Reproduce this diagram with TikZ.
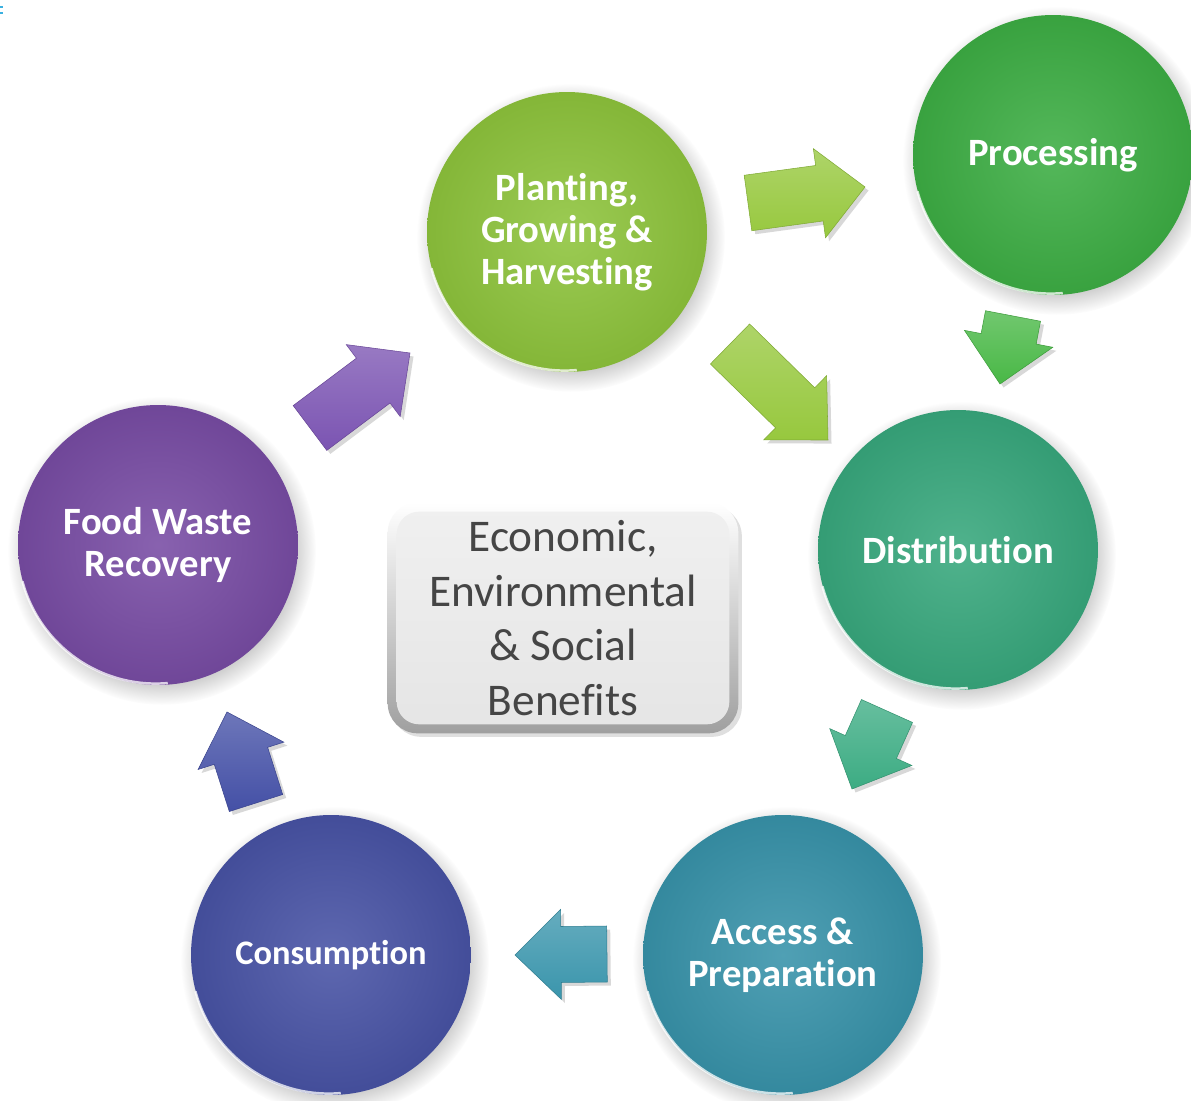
\documentclass[tikz,border=0pt]{standalone}
\usepackage{fontspec}
\setmainfont{Carlito}[Ligatures={NoCommon}]
\usetikzlibrary{calc,shadows,backgrounds}

% stage colours
\definecolor{plantC}{HTML}{8EC43C}
\definecolor{procC}{HTML}{3DAE44}
\definecolor{distC}{HTML}{38A87D}
\definecolor{accC}{HTML}{3893AA}
\definecolor{consC}{HTML}{4853A5}
\definecolor{wasteC}{HTML}{784CA4}
% arrow colours
\definecolor{arPurple}{HTML}{7B54B2}
\definecolor{arLime}{HTML}{97C83E}
\definecolor{arGreen}{HTML}{49B846}
\definecolor{arSea}{HTML}{3CAC83}
\definecolor{arTeal}{HTML}{3A95AC}
\definecolor{arBlue}{HTML}{4450A6}
\definecolor{boxText}{HTML}{454545}
\definecolor{tick}{HTML}{3BB0E0}

% block arrow from a tail coordinate to a tip coordinate
\newcommand\blockarrow[3]{%
  \coordinate (#1-#2-b) at ($(#2)!0.92cm!(#1)$);
  \path[#3]
    ($(#1)!0.56cm!90:(#2)$) -- ($(#1-#2-b)!0.56cm!90:(#2)$) --
    ($(#1-#2-b)!0.9cm!90:(#2)$) -- (#2) --
    ($(#1-#2-b)!0.9cm!-90:(#2)$) -- ($(#1-#2-b)!0.56cm!-90:(#2)$) --
    ($(#1)!0.56cm!-90:(#2)$) -- cycle;}

\tikzset{
  stage/.style={circle, minimum size=5.6cm, inner sep=0pt, align=center,
    text=white, font=\bfseries\fontsize{22}{24}\selectfont,
    shade, inner color=#1!88!white, outer color=#1!93!black,
    circular drop shadow={shadow xshift=2pt, shadow yshift=-3pt, opacity=.4}},
  rim/.style={draw=white, line width=1.4pt, opacity=.75},
  blockshape/.style={shade, top color=#1!78!white, bottom color=#1,
    draw=#1!85!black, line width=0.3pt, line join=miter,
    drop shadow={shadow xshift=2pt, shadow yshift=-2pt, opacity=.3}},
  benefits/.style={rectangle, rounded corners=0.6cm, minimum width=7cm,
    minimum height=4.6cm, align=center, text=boxText,
    font=\fontsize{25.8}{31}\selectfont}
}

\begin{document}
\begin{tikzpicture}[x=0.02cm, y=-0.02cm]
\useasboundingbox (0,0) rectangle (1191,1101);
\begin{scope}[on background layer]
  \fill[white] (0,0) rectangle (1191,1101);
\end{scope}
\fill[tick] (0,6) rectangle (3,8);
\fill[tick] (0,12) rectangle (3,14);

% stages of the cycle
\node[stage=plantC] (plant) at (567,232) {Planting,\\Growing \&\\Harvesting};
\node[stage=procC]  (proc)  at (1053,155) {Processing};
\node[stage=distC]  (dist)  at (958,550) {Distribution};
\node[stage=accC]   (acc)   at (783,955) {Access \&\\Preparation};
\node[stage=consC, font=\bfseries\fontsize{19.6}{23}\selectfont]
                    (cons)  at (331,955) {Consumption};
\node[stage=wasteC] (waste) at (158,545) {Food Waste\\Recovery};

% light rims on the lower left edges
\foreach \n in {plant,proc,dist,acc,cons,waste}
  \draw[rim] (\n.195) arc[start angle=195, end angle=275, radius=2.76cm];

% centre box
\node[benefits] (ben) at (563,618) {Economic,\\Environmental\\\& Social\\Benefits};
\begin{scope}[on background layer]
  \path[shade, top color=white, bottom color=gray!75, rounded corners=0.6cm,
        drop shadow={shadow xshift=2pt, shadow yshift=-2pt, opacity=.25}]
    (ben.north west) rectangle (ben.south east);
  \path[shade, top color=gray!12, bottom color=gray!20, rounded corners=0.45cm]
    ([shift={(9,9)}]ben.north west) rectangle ([shift={(-9,-9)}]ben.south east);
\end{scope}

% arrow end points
\coordinate (a1t) at (310,428);  \coordinate (a1h) at (410,353);
\coordinate (a2t) at (748,203);  \coordinate (a2h) at (865,187);
\coordinate (a3t) at (730,344);  \coordinate (a3h) at (828,440);
\coordinate (a4t) at (1013,316); \coordinate (a4h) at (1000,384);
\coordinate (a5t) at (887,711);  \coordinate (a5h) at (852,789);
\coordinate (a6t) at (607,954);  \coordinate (a6h) at (515,955);
\coordinate (a7t) at (256,803);  \coordinate (a7h) at (227,712);

% flow arrows
\blockarrow{a1t}{a1h}{blockshape=arPurple}
\blockarrow{a2t}{a2h}{blockshape=arLime}
\blockarrow{a3t}{a3h}{blockshape=arLime}
\blockarrow{a4t}{a4h}{blockshape=arGreen}
\blockarrow{a5t}{a5h}{blockshape=arSea}
\blockarrow{a6t}{a6h}{blockshape=arTeal}
\blockarrow{a7t}{a7h}{blockshape=arBlue}
\end{tikzpicture}
\end{document}
